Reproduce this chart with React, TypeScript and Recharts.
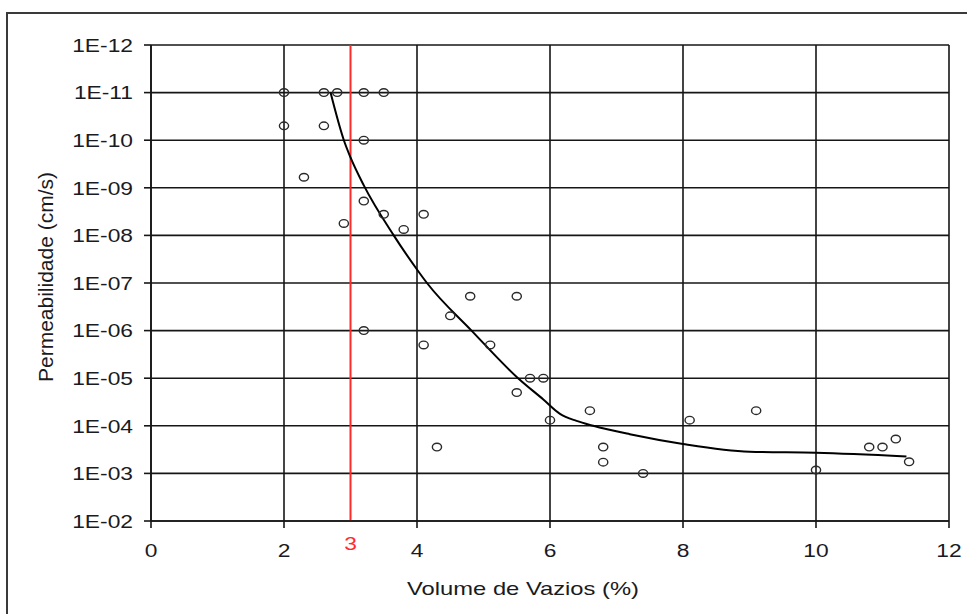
import { ScatterChart, Scatter, XAxis, YAxis, CartesianGrid, ReferenceLine } from 'recharts'

// Volume de vazios (%) x permeabilidade (cm/s) — pontos medidos
const voidsPct = [2, 2.6, 2.8, 3.2, 3.5, 2, 2.6, 3.2, 2.3, 3.2, 3.5, 2.9, 3.8, 4.1, 4.8, 5.5, 3.2, 4.5, 4.1, 5.1, 5.7, 5.9, 5.5, 6.0, 6.6, 6.8, 6.8, 7.4, 8.1, 9.1, 4.3, 10.0, 10.8, 11.0, 11.2, 11.4]
const permeability = [1e-11, 1e-11, 1e-11, 1e-11, 1e-11, 5e-11, 5e-11, 1e-10, 6e-10, 1.9e-9, 3.6e-9, 5.6e-9, 7.5e-9, 3.6e-9, 1.9e-7, 1.9e-7, 1e-6, 4.9e-7, 2e-6, 2e-6, 1e-5, 1e-5, 2e-5, 7.6e-5, 4.8e-5, 2.8e-4, 5.8e-4, 1e-3, 7.6e-5, 4.8e-5, 2.8e-4, 8.5e-4, 2.8e-4, 2.8e-4, 1.9e-4, 5.7e-4]

// linha de tendência
const trendPct = [2.7, 2.9, 3.0, 3.2, 3.65, 4.0, 4.15, 4.82, 5.52, 5.9, 6.15, 6.4, 6.65, 7.2, 8.0, 9.0, 10.0, 11.36]
const trendK = [1e-11, 1e-10, 2.3e-10, 8.9e-10, 1e-8, 5.2e-8, 1e-7, 1e-6, 1e-5, 2.8e-5, 5.6e-5, 7.9e-5, 1e-4, 1.5e-4, 2.4e-4, 3.5e-4, 3.7e-4, 4.4e-4]

const xTicks = [0, 2, 4, 6, 8, 10, 12]
const yTicks = [1e-12, 1e-11, 1e-10, 1e-9, 1e-8, 1e-7, 1e-6, 1e-5, 1e-4, 1e-3, 1e-2]
const limitPct = 3

const FONT = '"Liberation Sans", Arial, sans-serif'
const INK = '#161616'

const points = voidsPct.map((x, i) => ({ x, k: permeability[i] }))
const trend = trendPct.map((x, i) => ({ x, k: trendK[i] }))

const fmtExp = (v: number) => `1E-${String(-Math.round(Math.log10(v))).padStart(2, '0')}`

const XTick = ({ x, y, payload }: any) => (
  <g transform={`translate(${x},${y})`}>
    <text transform="scale(1.2,1)" y={27} textAnchor="middle" fontSize={19} fontFamily={FONT} fill="#1a1a22">
      {payload.value}
    </text>
  </g>
)

const YTick = ({ x, y, payload }: any) => (
  <g transform={`translate(${x},${y})`}>
    <text transform="scale(1.2,1)" y={6.8} textAnchor="end" fontSize={19} fontFamily={FONT} fill="#1a1a22">
      {fmtExp(payload.value)}
    </text>
  </g>
)

const Ring = ({ cx, cy }: any) => (
  <ellipse cx={cx} cy={cy} rx={4.6} ry={3.8} fill="none" stroke="#2a2a2a" strokeWidth={1.4} />
)

export default function App() {
  return (
    <div style={{ position: 'absolute', left: 0, top: 0, width: 967, height: 614, overflow: 'hidden', background: '#fff' }}>
      <div style={{ position: 'absolute', left: 6, top: 12, width: 1000, height: 700, borderLeft: '2px solid #3a3a3a', borderTop: '2px solid #3a3a3a' }} />
      <div style={{ position: 'absolute', left: 0, top: 0 }}>
        <ScatterChart width={967} height={614} margin={{ top: 45, right: 18, bottom: 0, left: 0 }}>
          <CartesianGrid stroke={INK} strokeWidth={1.6} />
          <XAxis
            type="number" dataKey="x" domain={[0, 12]} ticks={xTicks} height={93}
            tickSize={7} tickMargin={2} tick={<XTick />}
            axisLine={{ stroke: INK, strokeWidth: 1.6 }} tickLine={{ stroke: INK, strokeWidth: 1.6 }}
            label={{
              content: ({ viewBox }: any) => (
                <g transform={`translate(${viewBox.x + viewBox.width / 2 - 27},${viewBox.y + 74})`}>
                  <text transform="scale(1.25,1)" textAnchor="middle" fontSize={19} fontFamily={FONT} fill="#1a1a22">
                    Volume de Vazios (%)
                  </text>
                </g>
              ),
            }}
          />
          <YAxis
            type="number" dataKey="k" scale="log" domain={[1e-12, 1e-2]} allowDataOverflow reversed
            ticks={yTicks} width={151} tickSize={7} tickMargin={11} tick={<YTick />}
            axisLine={{ stroke: INK, strokeWidth: 1.6 }} tickLine={{ stroke: INK, strokeWidth: 1.6 }}
            label={{
              content: ({ viewBox }: any) => {
                const cx = 46
                const cy = viewBox.y + viewBox.height / 2 - 6
                return (
                  <text x={cx} y={cy} transform={`rotate(-90,${cx},${cy})`} dy={7} textAnchor="middle" fontSize={21} fontFamily={FONT} fill="#1a1a22">
                    Permeabilidade (cm/s)
                  </text>
                )
              },
            }}
          />
          <ReferenceLine
            x={limitPct} stroke="#ff2a2a" strokeWidth={2}
            label={{
              content: ({ viewBox }: any) => (
                <g transform={`translate(${viewBox.x},${viewBox.y + viewBox.height + 29})`}>
                  <text transform="scale(1.2,1)" textAnchor="middle" fontSize={19} fontFamily={FONT} fill="#ff2a2a">
                    {limitPct}
                  </text>
                </g>
              ),
            }}
          />
          <Scatter data={trend} isAnimationActive={false} line={{ stroke: '#000', strokeWidth: 2 }} lineJointType="monotoneX" shape={() => <g />} />
          <Scatter data={points} isAnimationActive={false} shape={<Ring />} />
        </ScatterChart>
      </div>
    </div>
  )
}
